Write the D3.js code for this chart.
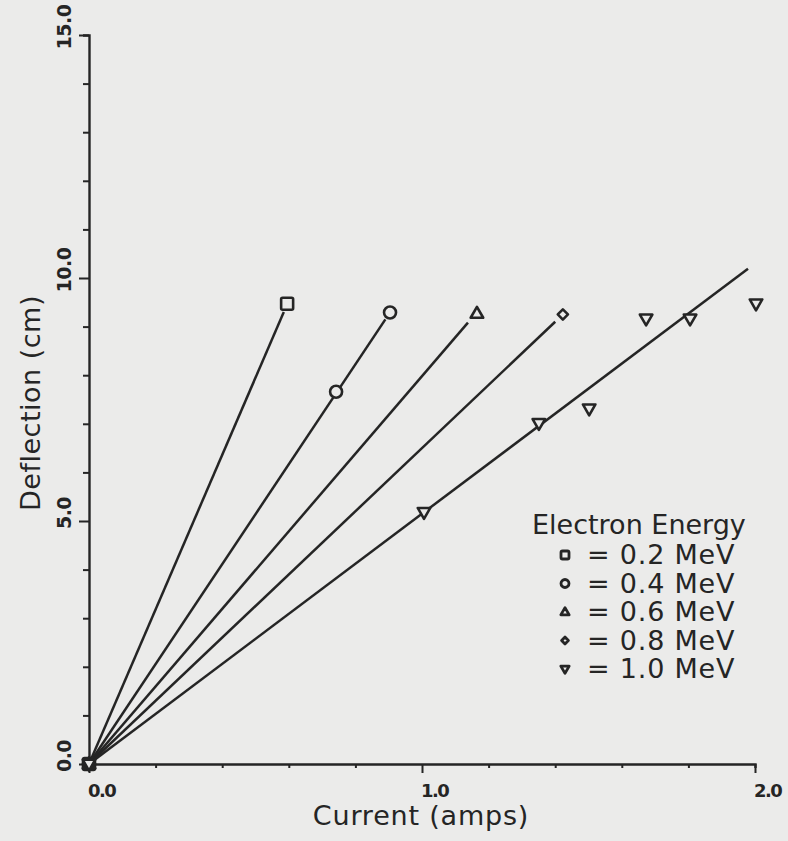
<!DOCTYPE html>
<html>
<head>
<meta charset="utf-8">
<script src="https://cdn.jsdelivr.net/npm/d3@7"></script>
<style>
  html, body { margin: 0; padding: 0; background: #ebebea; }
  svg { display: block; }
</style>
</head>
<body>
<div id="chart"></div>
<script>
// measured points, current (amps) vs deflection (cm)
const energies = ["0.2", "0.4", "0.6", "0.8", "1.0"];
const shapes = ["square", "circle", "triangle", "diamond", "triangleDown"];
const current02 = [0, 0.595];
const deflect02 = [0, 9.47];
const current04 = [0, 0.742, 0.904];
const deflect04 = [0, 7.66, 9.29];
const current06 = [0, 1.165];
const deflect06 = [0, 9.27];
const current08 = [0, 1.423];
const deflect08 = [0, 9.25];
const current10 = [0, 1.006, 1.351, 1.502, 1.673, 1.805, 2.003];
const deflect10 = [0, 5.18, 7.01, 7.31, 9.16, 9.16, 9.47];
// straight-line fits through origin: slope and where each line stops
const fitSlope = [15.9, 10.28, 7.98, 6.5, 5.15];
const fitEnd = [0.585, 0.89, 1.138, 1.4, 1.979];
const xTicks = [0, 1, 2];
const yTicks = [0, 5, 10, 15];

const W = 788, H = 841;
const ink = "#252525";
const font = "DejaVu Sans, sans-serif";

const series = [
  [current02, deflect02], [current04, deflect04], [current06, deflect06],
  [current08, deflect08], [current10, deflect10]
].map((s, i) => ({
  shape: shapes[i],
  label: energies[i],
  slope: fitSlope[i],
  end: fitEnd[i],
  pts: s[0].map((c, j) => ({ x: c, y: s[1][j] }))
}));

const svg = d3.select("#chart").append("svg")
  .attr("width", W).attr("height", H)
  .attr("font-family", font);

svg.append("rect").attr("width", W).attr("height", H).attr("fill", "#ebebea");

const x = d3.scaleLinear().domain([0, 2]).range([89, 755]);
const y = d3.scaleLinear().domain([0, 15]).range([764, 35]);

// axes
const xAxis = svg.append("g").attr("transform", `translate(0,${y(0)})`)
  .call(d3.axisBottom(x).tickValues(d3.range(0, 2.001, 0.2)).tickSize(4).tickFormat(""));
const yAxis = svg.append("g").attr("transform", `translate(${x(0)},0)`)
  .call(d3.axisLeft(y).tickValues(d3.range(0, 15.001, 1)).tickSize(6).tickFormat(""));
[xAxis, yAxis].forEach(a => {
  a.select(".domain").attr("stroke", ink).attr("stroke-width", 2.4);
  a.selectAll(".tick line").attr("stroke", ink).attr("stroke-width", 2);
});
xAxis.selectAll(".tick line").filter(d => Math.abs(d - Math.round(d)) < 1e-6).attr("y2", 9);
yAxis.selectAll(".tick line").filter(d => d % 5 === 0).attr("x2", -10);

svg.append("g").selectAll("text").data(xTicks).join("text")
  .attr("x", d => x(d) - 1).attr("y", 797)
  .attr("font-size", 18).attr("font-weight", "bold").attr("letter-spacing", -1.5)
  .attr("fill", ink)
  .text(d => d.toFixed(1));

svg.append("g").selectAll("text").data(yTicks).join("text")
  .attr("transform", d => `translate(71,${y(d)}) rotate(-90)`)
  .attr("x", 8).attr("text-anchor", "middle")
  .attr("font-size", 19).attr("font-weight", "bold").attr("letter-spacing", -0.5)
  .attr("fill", ink)
  .text(d => d.toFixed(1));

svg.append("text")
  .attr("x", 421).attr("y", 825).attr("text-anchor", "middle")
  .attr("font-size", 27).attr("letter-spacing", 0.8).attr("fill", ink)
  .text("Current (amps)");
svg.append("text")
  .attr("transform", "translate(40,403) rotate(-90)")
  .attr("text-anchor", "middle")
  .attr("font-size", 27).attr("letter-spacing", 0.5).attr("fill", ink)
  .text("Deflection (cm)");

// fit lines
svg.append("g").selectAll("line").data(series).join("line")
  .attr("x1", x(0)).attr("y1", y(0))
  .attr("x2", d => x(d.end)).attr("y2", d => y(d.slope * d.end))
  .attr("stroke", ink).attr("stroke-width", 2.5);

// marker shapes
function marker(sel, shape, s, sw) {
  if (shape === "square") {
    sel.append("rect").attr("x", -s).attr("y", -s).attr("width", 2 * s).attr("height", 2 * s).attr("rx", 1.5);
  } else if (shape === "circle") {
    sel.append("circle").attr("r", s);
  } else if (shape === "diamond") {
    const r = s * 0.85;
    sel.append("path").attr("d", `M0,${-r}L${r},0L0,${r}L${-r},0Z`);
  } else {
    const up = shape === "triangle" ? 1 : -1;
    const r = s * 1.1;
    sel.append("path").attr("d",
      `M0,${-r * up}L${r * 0.95},${r * 0.65 * up}L${-r * 0.95},${r * 0.65 * up}Z`);
  }
  sel.selectAll("*").attr("fill", "#ebebea").attr("stroke", ink).attr("stroke-width", sw)
    .attr("stroke-linejoin", "round");
}

series.forEach(s => {
  svg.append("g").selectAll("g").data(s.pts).join("g")
    .attr("transform", d => `translate(${x(d.x)},${y(d.y)})`)
    .each(function () { marker(d3.select(this), s.shape, 6, 2.6); });
});

// legend
const legend = svg.append("g").attr("fill", ink);
legend.append("text").attr("x", 532).attr("y", 534)
  .attr("font-size", 27).text("Electron Energy");
series.forEach((s, i) => {
  const by = 564 + i * 28.5;
  const g = legend.append("g").attr("transform", `translate(565,${by - 9})`);
  marker(g, s.shape, 4, 2.8);
  legend.append("text").attr("x", 587).attr("y", by)
    .attr("font-size", 27).attr("letter-spacing", 0.8).text(`= ${s.label} MeV`);
});
</script>
</body>
</html>
